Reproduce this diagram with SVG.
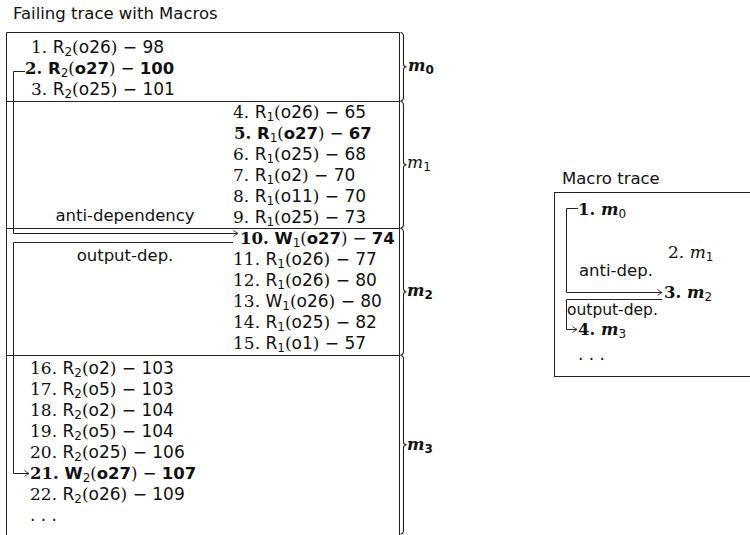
<svg xmlns="http://www.w3.org/2000/svg" width="750" height="535" viewBox="0 0 750 535">
<defs>
<style>
text{font-family:"DejaVu Sans",sans-serif;font-size:17px;fill:#111}
.n{font-family:"DejaVu Serif",serif}
.b{font-weight:bold;font-size:16.5px}
.r{font-weight:normal}
.sub{font-size:12px}
.lbl{font-size:16.5px}
.sm{font-size:15.5px}
.mi{font-family:"DejaVu Serif",serif;font-style:italic}
.box{fill:none;stroke:#222;stroke-width:1}
.conn{fill:none;stroke:#222;stroke-width:1}
.brace{fill:none;stroke:#222;stroke-width:1.1}
</style>
<marker id="arr" markerWidth="8" markerHeight="8" refX="0" refY="0" viewBox="-6 -4 8 8" orient="auto" markerUnits="userSpaceOnUse">
<path d="M-4.5,-3 Q-1.5,-0.6 0,0 Q-1.5,0.6 -4.5,3" fill="none" stroke="#222" stroke-width="0.9"/>
</marker>
</defs>
<rect width="750" height="535" fill="#fff"/>

<g id="failing-trace">
<text x="13" y="19" class="lbl">Failing trace with Macros</text>
<path class="box" d="M6.5,536 V32.5 H399.5 V536 M6.5,101.5 H399.5 M6.5,228.5 H399.5 M6.5,355.5 H399.5"/>
</g>

<g id="macro-m0">
<g id="r1"><text x="31" y="53"><tspan class="n">1.</tspan> R<tspan class="sub" dy="3">2</tspan><tspan class="n" dy="-3">(</tspan>o26<tspan class="n">)</tspan> − 98</text></g>
<g id="r2"><text x="25" y="74" class="b"><tspan class="n">2.</tspan> R<tspan class="sub r" dy="3">2</tspan><tspan class="n r" dy="-3">(</tspan>o27<tspan class="n r">)</tspan><tspan class="r"> − </tspan>100</text></g>
<g id="r3"><text x="31" y="95"><tspan class="n">3.</tspan> R<tspan class="sub" dy="3">2</tspan><tspan class="n" dy="-3">(</tspan>o25<tspan class="n">)</tspan> − 101</text></g>
<path class="brace" d="M400.5,32.5 q3,0 3,4 V63.75 q0,3 3,3 q-3,0 -3,3 V97 q0,4 -3,4"/>
<text x="408" y="71" class="b"><tspan class="mi">m</tspan><tspan class="sub" dy="3">0</tspan></text>
</g>

<g id="macro-m1">
<g id="r4"><text x="233" y="118"><tspan class="n">4.</tspan> R<tspan class="sub" dy="3">1</tspan><tspan class="n" dy="-3">(</tspan>o26<tspan class="n">)</tspan> − 65</text></g>
<g id="r5"><text x="234" y="139" class="b"><tspan class="n">5.</tspan> R<tspan class="sub r" dy="3">1</tspan><tspan class="n r" dy="-3">(</tspan>o27<tspan class="n r">)</tspan><tspan class="r"> − </tspan>67</text></g>
<g id="r6"><text x="233" y="160"><tspan class="n">6.</tspan> R<tspan class="sub" dy="3">1</tspan><tspan class="n" dy="-3">(</tspan>o25<tspan class="n">)</tspan> − 68</text></g>
<g id="r7"><text x="233" y="181"><tspan class="n">7.</tspan> R<tspan class="sub" dy="3">1</tspan><tspan class="n" dy="-3">(</tspan>o2<tspan class="n">)</tspan> − 70</text></g>
<g id="r8"><text x="233" y="202"><tspan class="n">8.</tspan> R<tspan class="sub" dy="3">1</tspan><tspan class="n" dy="-3">(</tspan>o11<tspan class="n">)</tspan> − 70</text></g>
<g id="r9"><text x="233" y="223"><tspan class="n">9.</tspan> R<tspan class="sub" dy="3">1</tspan><tspan class="n" dy="-3">(</tspan>o25<tspan class="n">)</tspan> − 73</text></g>
<path class="brace" d="M400.5,101.5 q3,0 3,4 V161.75 q0,3 3,3 q-3,0 -3,3 V224 q0,4 -3,4"/>
<text x="407" y="168"><tspan class="mi">m</tspan><tspan class="sub" dy="3">1</tspan></text>
</g>

<g id="macro-m2">
<g id="r10"><text x="240" y="244" class="b"><tspan class="n">10.</tspan> W<tspan class="sub r" dy="3">1</tspan><tspan class="n r" dy="-3">(</tspan>o27<tspan class="n r">)</tspan><tspan class="r"> − </tspan>74</text></g>
<g id="r11"><text x="233" y="265"><tspan class="n">11.</tspan> R<tspan class="sub" dy="3">1</tspan><tspan class="n" dy="-3">(</tspan>o26<tspan class="n">)</tspan> − 77</text></g>
<g id="r12"><text x="233" y="286"><tspan class="n">12.</tspan> R<tspan class="sub" dy="3">1</tspan><tspan class="n" dy="-3">(</tspan>o26<tspan class="n">)</tspan> − 80</text></g>
<g id="r13"><text x="233" y="307"><tspan class="n">13.</tspan> W<tspan class="sub" dy="3">1</tspan><tspan class="n" dy="-3">(</tspan>o26<tspan class="n">)</tspan> − 80</text></g>
<g id="r14"><text x="233" y="328"><tspan class="n">14.</tspan> R<tspan class="sub" dy="3">1</tspan><tspan class="n" dy="-3">(</tspan>o25<tspan class="n">)</tspan> − 82</text></g>
<g id="r15"><text x="233" y="349"><tspan class="n">15.</tspan> R<tspan class="sub" dy="3">1</tspan><tspan class="n" dy="-3">(</tspan>o1<tspan class="n">)</tspan> − 57</text></g>
<path class="brace" d="M400.5,228.5 q3,0 3,4 V288.75 q0,3 3,3 q-3,0 -3,3 V351 q0,4 -3,4"/>
<text x="407" y="296" class="b"><tspan class="mi">m</tspan><tspan class="sub" dy="3">2</tspan></text>
</g>

<g id="macro-m3">
<g id="r16"><text x="30" y="374"><tspan class="n">16.</tspan> R<tspan class="sub" dy="3">2</tspan><tspan class="n" dy="-3">(</tspan>o2<tspan class="n">)</tspan> − 103</text></g>
<g id="r17"><text x="30" y="395"><tspan class="n">17.</tspan> R<tspan class="sub" dy="3">2</tspan><tspan class="n" dy="-3">(</tspan>o5<tspan class="n">)</tspan> − 103</text></g>
<g id="r18"><text x="30" y="416"><tspan class="n">18.</tspan> R<tspan class="sub" dy="3">2</tspan><tspan class="n" dy="-3">(</tspan>o2<tspan class="n">)</tspan> − 104</text></g>
<g id="r19"><text x="30" y="437"><tspan class="n">19.</tspan> R<tspan class="sub" dy="3">2</tspan><tspan class="n" dy="-3">(</tspan>o5<tspan class="n">)</tspan> − 104</text></g>
<g id="r20"><text x="30" y="458"><tspan class="n">20.</tspan> R<tspan class="sub" dy="3">2</tspan><tspan class="n" dy="-3">(</tspan>o25<tspan class="n">)</tspan> − 106</text></g>
<g id="r21"><text x="30" y="479" class="b"><tspan class="n">21.</tspan> W<tspan class="sub r" dy="3">2</tspan><tspan class="n r" dy="-3">(</tspan>o27<tspan class="n r">)</tspan><tspan class="r"> − </tspan>107</text></g>
<g id="r22"><text x="30" y="500"><tspan class="n">22.</tspan> R<tspan class="sub" dy="3">2</tspan><tspan class="n" dy="-3">(</tspan>o26<tspan class="n">)</tspan> − 109</text></g>
<text x="30" y="521">. . .</text>
<path class="brace" d="M400.5,355.5 q3,0 3,4 V441.75 q0,3 3,3 q-3,0 -3,3 V530 q0,4 -3,4"/>
<text x="407" y="450" class="b"><tspan class="mi">m</tspan><tspan class="sub" dy="3">3</tspan></text>
</g>

<g id="macro-trace">
<text x="562" y="184" class="lbl">Macro trace</text>
<rect class="box" x="554.5" y="192.5" width="220" height="184"/>
<g id="mt1"><text x="578" y="215" class="b"><tspan class="n">1.</tspan> <tspan class="mi">m</tspan><tspan class="sub r" dy="3">0</tspan></text></g>
<g id="mt2"><text x="668" y="258"><tspan class="n">2.</tspan> <tspan class="mi">m</tspan><tspan class="sub" dy="3">1</tspan></text></g>
<g id="mt3"><text x="664" y="298" class="b"><tspan class="n">3.</tspan> <tspan class="mi">m</tspan><tspan class="sub r" dy="3">2</tspan></text></g>
<g id="mt4"><text x="578" y="335" class="b"><tspan class="n">4.</tspan> <tspan class="mi">m</tspan><tspan class="sub r" dy="3">3</tspan></text></g>
<text x="578" y="360">. . .</text>
</g>

<g id="connectors">
<path class="conn" d="M25,71.5 H13.5 V233.5 H238" marker-end="url(#arr)"/>
<path class="conn" d="M233,242.5 H13.5 V473.5 H29" marker-end="url(#arr)"/>
<text x="125" y="221" class="lbl" text-anchor="middle">anti-dependency</text>
<text x="125" y="261" class="lbl" text-anchor="middle">output-dep.</text>
<path class="conn" d="M578,208.5 H566.5 V292.5 H662" marker-end="url(#arr)"/>
<path class="conn" d="M662,299.5 H566.5 V329.5 H577" marker-end="url(#arr)"/>
<text x="579" y="276" class="lbl">anti-dep.</text>
<text x="567" y="315" class="sm">output-dep.</text>
</g>
</svg>
